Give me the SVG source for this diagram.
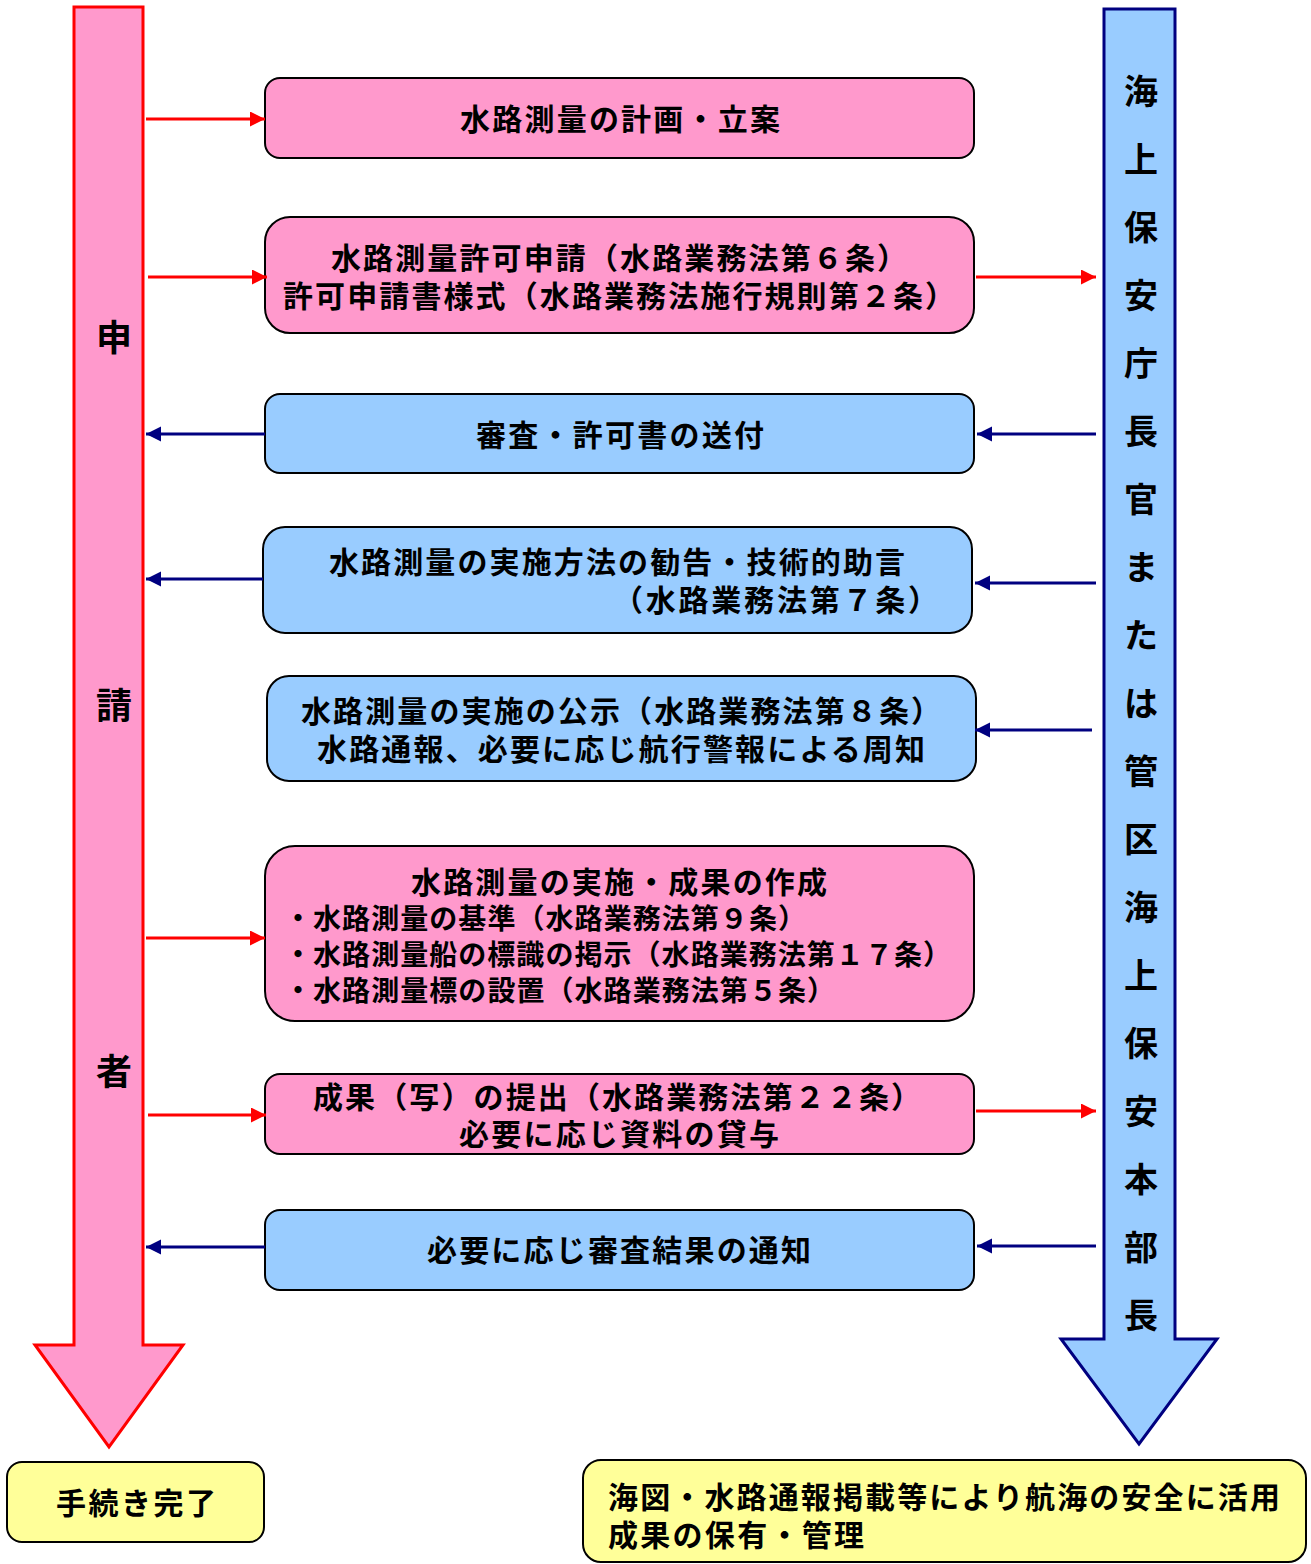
<svg xmlns="http://www.w3.org/2000/svg" width="1311" height="1564" viewBox="0 0 1311 1564">
<style>
.t{font-family:"Noto Sans CJK JP","Noto Sans CJK SC",sans-serif;font-weight:bold;font-size:30px;fill:#000}
.s{font-size:28px}
.col{font-size:34px}
.pink{fill:#FF99CC;stroke:#000;stroke-width:2}
.blue{fill:#99CCFF;stroke:#000;stroke-width:2}
.yel{fill:#FFFF99;stroke:#000;stroke-width:2}
.rl{stroke:#FF0000;stroke-width:3;fill:none;marker-end:url(#ra)}
.bl{stroke:#000080;stroke-width:3;fill:none;marker-end:url(#ba)}
</style>
<defs>
<marker id="ra" markerUnits="userSpaceOnUse" markerWidth="16" markerHeight="16" refX="15" refY="7.5" orient="auto"><path d="M0,0 L15,7.5 L0,15 z" fill="#FF0000"/></marker>
<marker id="ba" markerUnits="userSpaceOnUse" markerWidth="16" markerHeight="16" refX="15" refY="7.5" orient="auto"><path d="M0,0 L15,7.5 L0,15 z" fill="#000080"/></marker>
</defs>
<rect width="1311" height="1564" fill="#fff"/>

<g id="applicant">
<polygon points="74,7 143,7 143,1345 183,1345 109,1447 35,1345 74,1345" fill="#FF99CC" stroke="#FF0000" stroke-width="3"/>
<text class="t col" x="114" y="351" text-anchor="middle" style="font-size:36px">申</text>
<text class="t col" x="114" y="719" text-anchor="middle" style="font-size:36px">請</text>
<text class="t col" x="114" y="1085" text-anchor="middle" style="font-size:36px">者</text>
</g>

<g id="authority">
<polygon points="1104,9 1175,9 1175,1339 1217,1339 1139,1444 1061,1339 1104,1339" fill="#99CCFF" stroke="#000080" stroke-width="3"/>
<text class="t col" text-anchor="middle">
<tspan x="1141" y="104">海</tspan><tspan x="1141" y="172">上</tspan><tspan x="1141" y="240">保</tspan><tspan x="1141" y="308">安</tspan><tspan x="1141" y="376">庁</tspan><tspan x="1141" y="444">長</tspan><tspan x="1141" y="512">官</tspan><tspan x="1141" y="580">ま</tspan><tspan x="1141" y="648">た</tspan><tspan x="1141" y="716">は</tspan><tspan x="1141" y="784">管</tspan><tspan x="1141" y="852">区</tspan><tspan x="1141" y="920">海</tspan><tspan x="1141" y="988">上</tspan><tspan x="1141" y="1056">保</tspan><tspan x="1141" y="1124">安</tspan><tspan x="1141" y="1192">本</tspan><tspan x="1141" y="1260">部</tspan><tspan x="1141" y="1328">長</tspan>
</text>
</g>

<g id="n1">
<rect class="pink" x="265" y="78" width="709" height="80" rx="15"/>
<text class="t" x="620" y="130" text-anchor="middle" textLength="320" lengthAdjust="spacing">水路測量の計画・立案</text>
</g>

<g id="n2">
<rect class="pink" x="265" y="217" width="709" height="116" rx="25"/>
<text class="t" x="619" y="269" text-anchor="middle" textLength="576" lengthAdjust="spacing">水路測量許可申請（水路業務法第６条）</text>
<text class="t" x="619" y="307" text-anchor="middle" textLength="672" lengthAdjust="spacing">許可申請書様式（水路業務法施行規則第２条）</text>
</g>

<g id="n3">
<rect class="blue" x="265" y="394" width="709" height="79" rx="15"/>
<text class="t" x="620" y="446" text-anchor="middle" textLength="288" lengthAdjust="spacing">審査・許可書の送付</text>
</g>

<g id="n4">
<rect class="blue" x="263" y="527" width="709" height="106" rx="22"/>
<text class="t" x="617" y="573" text-anchor="middle" textLength="576" lengthAdjust="spacing">水路測量の実施方法の勧告・技術的助言</text>
<text class="t" x="613" y="611" textLength="325" lengthAdjust="spacing">（水路業務法第７条）</text>
</g>

<g id="n5">
<rect class="blue" x="267" y="676" width="709" height="105" rx="22"/>
<text class="t" x="621" y="722" text-anchor="middle" textLength="640" lengthAdjust="spacing">水路測量の実施の公示（水路業務法第８条）</text>
<text class="t" x="621" y="760" text-anchor="middle" textLength="608" lengthAdjust="spacing">水路通報、必要に応じ航行警報による周知</text>
</g>

<g id="n6">
<rect class="pink" x="265" y="846" width="709" height="175" rx="30"/>
<text class="t" x="619" y="893" text-anchor="middle" textLength="416" lengthAdjust="spacing">水路測量の実施・成果の作成</text>
<text class="t s" x="284" y="929" textLength="522" lengthAdjust="spacing">・水路測量の基準（水路業務法第９条）</text>
<text class="t s" x="284" y="965" textLength="667" lengthAdjust="spacing">・水路測量船の標識の掲示（水路業務法第１７条）</text>
<text class="t s" x="284" y="1001" textLength="551" lengthAdjust="spacing">・水路測量標の設置（水路業務法第５条）</text>
</g>

<g id="n7">
<rect class="pink" x="265" y="1074" width="709" height="80" rx="15"/>
<text class="t" x="617" y="1108" text-anchor="middle" textLength="608" lengthAdjust="spacing">成果（写）の提出（水路業務法第２２条）</text>
<text class="t" x="619" y="1145" text-anchor="middle" textLength="320" lengthAdjust="spacing">必要に応じ資料の貸与</text>
</g>

<g id="n8">
<rect class="blue" x="265" y="1210" width="709" height="80" rx="15"/>
<text class="t" x="619" y="1261" text-anchor="middle" textLength="384" lengthAdjust="spacing">必要に応じ審査結果の通知</text>
</g>

<g id="done">
<rect class="yel" x="7" y="1462" width="257" height="80" rx="15"/>
<text class="t" x="136" y="1514" text-anchor="middle" textLength="160" lengthAdjust="spacing">手続き完了</text>
</g>

<g id="result">
<rect class="yel" x="583" y="1460" width="723" height="102" rx="18"/>
<text class="t" x="608" y="1508" textLength="672" lengthAdjust="spacing">海図・水路通報掲載等により航海の安全に活用</text>
<text class="t" x="608" y="1546" textLength="256" lengthAdjust="spacing">成果の保有・管理</text>
</g>

<g id="connectors">
<line class="rl" x1="146" y1="119" x2="265" y2="119"/>
<line class="rl" x1="148" y1="277" x2="267" y2="277"/>
<line class="rl" x1="976" y1="277" x2="1096" y2="277"/>
<line class="bl" x1="265" y1="434" x2="146" y2="434"/>
<line class="bl" x1="1096" y1="434" x2="977" y2="434"/>
<line class="bl" x1="263" y1="579" x2="146" y2="579"/>
<line class="bl" x1="1096" y1="583" x2="975" y2="583"/>
<line class="bl" x1="1092" y1="730" x2="975" y2="730"/>
<line class="rl" x1="146" y1="938" x2="265" y2="938"/>
<line class="rl" x1="148" y1="1115" x2="266" y2="1115"/>
<line class="rl" x1="976" y1="1111" x2="1096" y2="1111"/>
<line class="bl" x1="265" y1="1247" x2="146" y2="1247"/>
<line class="bl" x1="1096" y1="1246" x2="977" y2="1246"/>
</g>
</svg>
